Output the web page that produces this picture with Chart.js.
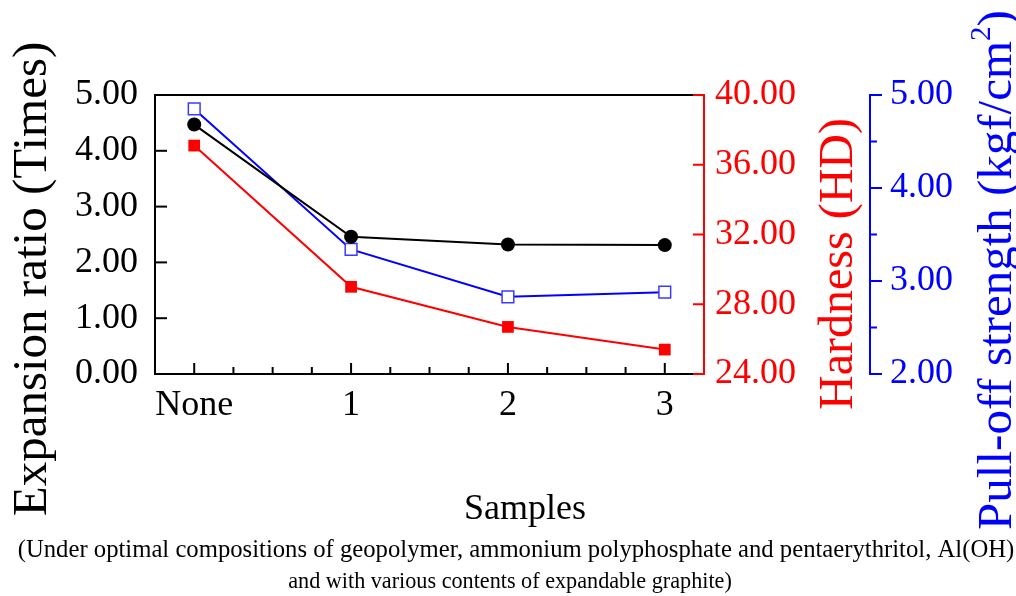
<!DOCTYPE html>
<html>
<head>
<meta charset="utf-8">
<script src="https://cdn.jsdelivr.net/npm/chart.js@4.4.1/dist/chart.umd.min.js"></script>
<style>
  html, body { margin: 0; padding: 0; background: #fff; }
  #wrap { width: 1016px; height: 596px; }
</style>
</head>
<body>
<div id="wrap"><canvas id="chart" width="1016" height="596"></canvas></div>
<script>
// data
const categories = ['None', '1', '2', '3'];
const expansionRatio = [4.47, 2.46, 2.32, 2.31];
const hardness = [37.1, 29.0, 26.7, 25.4];
const pullOff = [4.85, 3.34, 2.83, 2.88];

const expansionTicks = [0, 1, 2, 3, 4, 5];
const hardnessTicks = [24, 28, 32, 36, 40];
const pullOffTicks = [2, 3, 4, 5];
const pullOffMinor = [2.5, 3.5, 4.5];

const SERIF = '"Liberation Serif", "Times New Roman", serif';
const RED = '#ff0000';
const BLUE = '#0000ff';

const toPoints = vals => vals.map((v, i) => ({ x: i, y: v }));

// ticks point inward on the frame, outward on the blue axis
const tickMarks = {
  id: 'tickMarks',
  afterDatasetsDraw(chart) {
    const { ctx, chartArea: a, scales } = chart;
    ctx.save();
    ctx.lineWidth = 2;
    // top frame line
    ctx.strokeStyle = '#000';
    ctx.beginPath();
    ctx.moveTo(a.left, a.top);
    ctx.lineTo(a.right, a.top);
    ctx.stroke();
    // x ticks every 0.25, majors at categories
    for (let v = 0; v <= 3; v += 0.25) {
      const px = scales.x.getPixelForValue(v);
      const len = Number.isInteger(v) ? 11 : 7;
      ctx.beginPath();
      ctx.moveTo(px, a.bottom);
      ctx.lineTo(px, a.bottom - len);
      ctx.stroke();
    }
    // left axis
    expansionTicks.forEach(v => {
      const py = scales.y.getPixelForValue(v);
      ctx.beginPath();
      ctx.moveTo(a.left, py);
      ctx.lineTo(a.left + 12, py);
      ctx.stroke();
    });
    // red axis
    ctx.strokeStyle = RED;
    hardnessTicks.forEach(v => {
      const py = scales.y1.getPixelForValue(v);
      ctx.beginPath();
      ctx.moveTo(a.right, py);
      ctx.lineTo(a.right - 11, py);
      ctx.stroke();
    });
    // blue axis
    ctx.strokeStyle = BLUE;
    const bx = scales.y2.left;
    pullOffTicks.concat(pullOffMinor).forEach(v => {
      const py = scales.y2.getPixelForValue(v);
      const len = Number.isInteger(v) ? 12 : 7;
      ctx.beginPath();
      ctx.moveTo(bx, py);
      ctx.lineTo(bx + len, py);
      ctx.stroke();
    });
    ctx.restore();
  }
};

function vText(ctx, parts, x, yCenter, size, color) {
  // parts: [text, isSuperscript]
  ctx.save();
  ctx.fillStyle = color;
  let total = 0;
  parts.forEach(p => {
    ctx.font = (p[1] ? Math.round(size * 0.6) : size) + 'px ' + SERIF;
    total += ctx.measureText(p[0]).width;
  });
  ctx.translate(x, yCenter);
  ctx.rotate(-Math.PI / 2);
  ctx.textBaseline = 'alphabetic';
  ctx.textAlign = 'left';
  let cx = -total / 2;
  parts.forEach(p => {
    ctx.font = (p[1] ? Math.round(size * 0.6) : size) + 'px ' + SERIF;
    ctx.fillText(p[0], cx, p[1] ? -size * 0.42 : 0);
    cx += ctx.measureText(p[0]).width;
  });
  ctx.restore();
}

const titles = {
  id: 'titles',
  afterDraw(chart) {
    const ctx = chart.ctx;
    vText(ctx, [['Expansion ratio (Times)', false]], 46, 279, 49, '#000');
    vText(ctx, [['Hardness (HD)', false]], 852, 264, 48, RED);
    vText(ctx, [['Pull-off strength (kgf/cm', false], ['2', true], [')', false]], 1011, 270, 49, BLUE);

    ctx.save();
    ctx.fillStyle = '#000';
    ctx.textAlign = 'center';
    ctx.textBaseline = 'alphabetic';
    ctx.font = '36px ' + SERIF;
    ctx.fillText('Samples', 525, 519);
    ctx.font = '24.7px ' + SERIF;
    ctx.fillText('(Under optimal compositions of geopolymer, ammonium polyphosphate and pentaerythritol, Al(OH)', 516, 557);
    ctx.font = '22.2px ' + SERIF;
    ctx.fillText('and with various contents of expandable graphite)', 510, 588);
    ctx.restore();
  }
};

const tickFont = { family: SERIF, size: 36 };

new Chart(document.getElementById('chart'), {
  type: 'line',
  data: {
    datasets: [
      {
        label: 'Expansion ratio',
        data: toPoints(expansionRatio),
        yAxisID: 'y',
        borderColor: '#000',
        backgroundColor: '#000',
        borderWidth: 2,
        pointStyle: 'circle',
        pointRadius: 7,
        pointBorderWidth: 0,
        order: 0
      },
      {
        label: 'Hardness',
        data: toPoints(hardness),
        yAxisID: 'y1',
        borderColor: RED,
        backgroundColor: RED,
        borderWidth: 2,
        pointStyle: 'rect',
        pointRadius: 8.3,
        pointBorderWidth: 0,
        order: 2
      },
      {
        label: 'Pull-off strength',
        data: toPoints(pullOff),
        yAxisID: 'y2',
        borderColor: BLUE,
        backgroundColor: '#fff',
        pointBackgroundColor: '#fff',
        pointBorderColor: '#3b3bff',
        borderWidth: 2,
        pointStyle: 'rect',
        pointRadius: 8.3,
        pointBorderWidth: 1.5,
        order: 1
      }
    ]
  },
  options: {
    responsive: false,
    animation: false,
    devicePixelRatio: 1,
    layout: { padding: { top: 95, left: 0, right: 0, bottom: 0 } },
    plugins: { legend: { display: false }, tooltip: { enabled: false } },
    scales: {
      x: {
        type: 'linear',
        min: -0.25,
        max: 3.25,
        afterBuildTicks: s => { s.ticks = categories.map((c, i) => ({ value: i })); },
        afterFit: s => { s.height = 222; },
        ticks: {
          callback: v => categories[v],
          font: tickFont,
          color: '#000',
          padding: 10,
          maxRotation: 0,
          autoSkip: false
        },
        grid: { display: false, drawTicks: false },
        border: { display: true, color: '#000', width: 2 }
      },
      y: {
        position: 'left',
        min: 0,
        max: 5,
        afterBuildTicks: s => { s.ticks = expansionTicks.map(v => ({ value: v })); },
        afterFit: s => { s.width = 155; },
        ticks: { callback: v => v.toFixed(2), font: tickFont, color: '#000', padding: 17 },
        grid: { display: false, drawTicks: false },
        border: { display: true, color: '#000', width: 2 }
      },
      y1: {
        position: 'right',
        min: 24,
        max: 40,
        afterBuildTicks: s => { s.ticks = hardnessTicks.map(v => ({ value: v })); },
        afterFit: s => { s.width = 166; },
        ticks: { callback: v => v.toFixed(2), font: tickFont, color: RED, padding: 11 },
        grid: { display: false, drawTicks: false },
        border: { display: true, color: RED, width: 2 }
      },
      y2: {
        position: 'right',
        min: 2,
        max: 5,
        afterBuildTicks: s => { s.ticks = pullOffTicks.map(v => ({ value: v })); },
        afterFit: s => { s.width = 146; },
        ticks: { callback: v => v.toFixed(2), font: tickFont, color: BLUE, padding: 20 },
        grid: { display: false, drawTicks: false },
        border: { display: true, color: BLUE, width: 2 }
      }
    }
  },
  plugins: [tickMarks, titles]
});
</script>
</body>
</html>
